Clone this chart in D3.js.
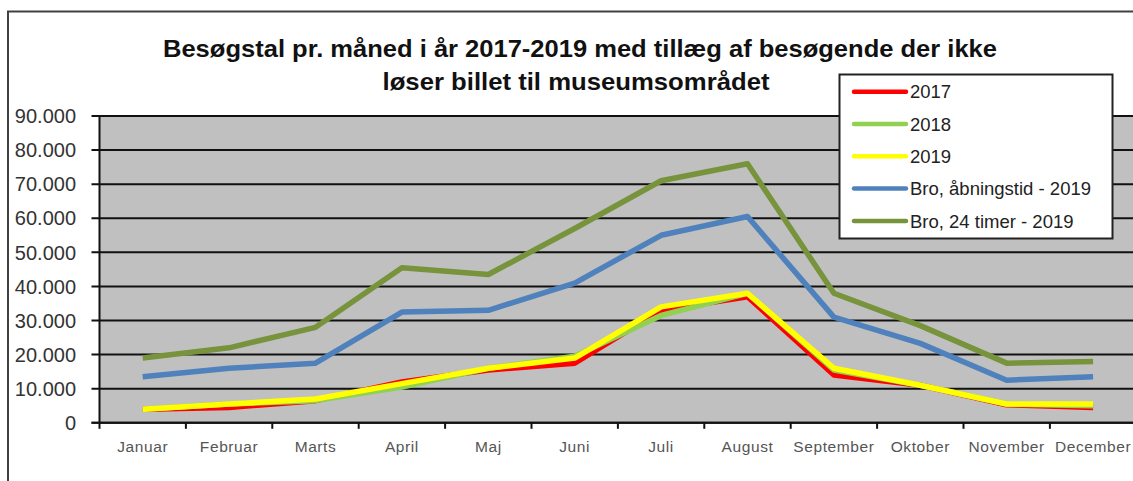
<!DOCTYPE html>
<html>
<head>
<meta charset="utf-8">
<script src="https://cdn.jsdelivr.net/npm/d3@7"></script>
<style>
  html, body { margin: 0; padding: 0; background: #fff; }
  svg { display: block; font-family: "Liberation Sans", Arial, sans-serif; }
</style>
</head>
<body>
<script>
const width = 1133;
const height = 481;

const months = ["Januar", "Februar", "Marts", "April", "Maj", "Juni", "Juli", "August", "September", "Oktober", "November", "December"];
const seriesNames = ["2017", "2018", "2019", "Bro, åbningstid - 2019", "Bro, 24 timer - 2019"];
const seriesColors = ["#ff0000", "#92d050", "#ffff00", "#4f81bd", "#77933c"];

const v2017 = [4000, 4500, 6500, 12000, 15500, 17500, 33000, 37000, 14000, 11000, 5300, 4500];
const v2018 = [4000, 5500, 6500, 10500, 16000, 19500, 31500, 38000, 15500, 11000, 5500, 5000];
const v2019 = [4000, 5500, 7000, 11500, 16000, 19000, 34000, 38000, 16000, 11000, 5500, 5500];
const broAabning = [13500, 16000, 17500, 32500, 33000, 41000, 55000, 60500, 31000, 23300, 12500, 13500];
const bro24 = [19000, 22000, 28000, 45500, 43500, 57000, 71000, 76000, 38000, 28500, 17500, 18000];

const yTicks = [0, 10000, 20000, 30000, 40000, 50000, 60000, 70000, 80000, 90000];

const seriesValues = [v2017, v2018, v2019, broAabning, bro24];
const series = seriesNames.map((name, i) => ({name, color: seriesColors[i], values: seriesValues[i]}));

const plot = {left: 99.5, right: 1136.3, top: 116, bottom: 422.8};

const x = d3.scaleBand().domain(months).range([plot.left, plot.right]);
const y = d3.scaleLinear().domain([0, 90000]).range([plot.bottom, plot.top]);

const fmt = d3.formatLocale({decimal: ",", thousands: ".", grouping: [3], currency: ["", " kr"]}).format(",");

const svg = d3.select("body").append("svg")
    .attr("width", width)
    .attr("height", height);

// outer chart frame
svg.append("rect")
    .attr("x", 8).attr("y", 11.5)
    .attr("width", 1300).attr("height", 600)
    .attr("fill", "#fff")
    .attr("stroke", "#404040")
    .attr("stroke-width", 2);

// title (squeezed to the narrow look of the original)
const title = svg.append("text")
    .attr("text-anchor", "middle")
    .attr("font-weight", "bold")
    .attr("font-size", 24)
    .attr("fill", "#111");
title.append("tspan").attr("x", 580).attr("y", 57)
    .attr("textLength", 834).attr("lengthAdjust", "spacingAndGlyphs")
    .text("Besøgstal pr. måned i år 2017-2019 med tillæg af besøgende der ikke");
title.append("tspan").attr("x", 576).attr("y", 90)
    .attr("textLength", 387).attr("lengthAdjust", "spacingAndGlyphs")
    .text("løser billet til museumsområdet");

// plot background
svg.append("rect")
    .attr("x", plot.left).attr("y", plot.top)
    .attr("width", plot.right - plot.left).attr("height", plot.bottom - plot.top)
    .attr("fill", "#c0c0c0");

// gridlines
svg.append("g")
  .selectAll("line")
  .data(yTicks)
  .join("line")
    .attr("x1", plot.left - 8).attr("x2", plot.right)
    .attr("y1", d => y(d)).attr("y2", d => y(d))
    .attr("stroke", "#111")
    .attr("stroke-width", 2);

// y axis labels
svg.append("g")
    .attr("font-size", 20)
    .attr("fill", "#333")
    .attr("text-anchor", "end")
  .selectAll("text")
  .data(yTicks)
  .join("text")
    .attr("x", 76)
    .attr("y", d => y(d))
    .attr("dy", "0.36em")
    .text(d => fmt(d));

// axes lines
svg.append("line")
    .attr("x1", plot.left).attr("x2", plot.left)
    .attr("y1", plot.top).attr("y2", plot.bottom)
    .attr("stroke", "#111").attr("stroke-width", 2);
svg.append("line")
    .attr("x1", plot.left - 8).attr("x2", plot.right)
    .attr("y1", plot.bottom).attr("y2", plot.bottom)
    .attr("stroke", "#111").attr("stroke-width", 2);

// x ticks at category boundaries
svg.append("g")
  .selectAll("line")
  .data(months)
  .join("line")
    .attr("x1", d => x(d)).attr("x2", d => x(d))
    .attr("y1", plot.bottom).attr("y2", plot.bottom + 6)
    .attr("stroke", "#111").attr("stroke-width", 2);

// x labels
svg.append("g")
    .attr("font-size", 15.5)
    .attr("letter-spacing", 0.6)
    .attr("fill", "#555")
    .attr("text-anchor", "middle")
  .selectAll("text")
  .data(months)
  .join("text")
    .attr("x", d => x(d) + x.bandwidth() / 2)
    .attr("y", 452)
    .text(d => d);

// series lines
const line = d3.line()
    .x((d, i) => x(months[i]) + x.bandwidth() / 2)
    .y(d => y(d));

svg.append("g")
    .attr("fill", "none")
    .attr("stroke-width", 5.5)
    .attr("stroke-linejoin", "round")
  .selectAll("path")
  .data(series)
  .join("path")
    .attr("stroke", d => d.color)
    .attr("d", d => line(d.values));

// legend
const legend = svg.append("g");
legend.append("rect")
    .attr("x", 839.5).attr("y", 74.5)
    .attr("width", 273).attr("height", 164)
    .attr("fill", "#fff")
    .attr("stroke", "#222")
    .attr("stroke-width", 2);

const item = legend.selectAll("g")
  .data(series)
  .join("g")
    .attr("transform", (d, i) => `translate(0,${91.7 + i * 32.3})`);
item.append("line")
    .attr("x1", 854).attr("x2", 906)
    .attr("stroke", d => d.color)
    .attr("stroke-width", 4.5)
    .attr("stroke-linecap", "round");
item.append("text")
    .attr("x", 910)
    .attr("dy", "0.36em")
    .attr("font-size", 18.5)
    .attr("fill", "#222")
    .text(d => d.name);
</script>
</body>
</html>
